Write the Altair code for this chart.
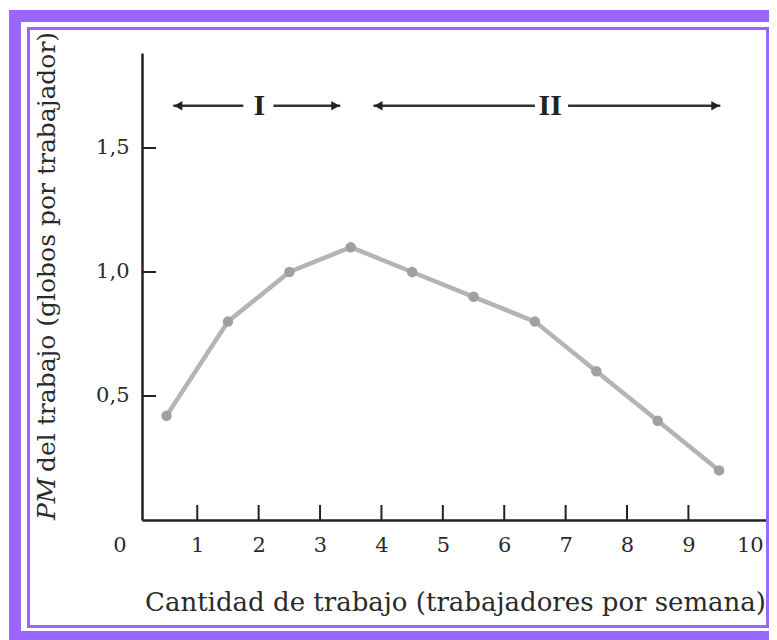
import altair as alt
import pandas as pd

# ---- data ----
trabajo = [0.5, 1.5, 2.5, 3.5, 4.5, 5.5, 6.5, 7.5, 8.5, 9.5]
pm_trabajo = [0.42, 0.80, 1.00, 1.10, 1.00, 0.90, 0.80, 0.60, 0.40, 0.20]
x_ticks = [1, 2, 3, 4, 5, 6, 7, 8, 9, 10]
x_origin = [0]
x_inner_ticks = [1, 2, 3, 4, 5, 6, 7, 8, 9]
y_ticks = [0.5, 1.0, 1.5]

# stage arrows (x from, x to, level)
seg_start = [0.61, 2.24, 3.87, 7.04]
seg_end = [1.75, 3.33, 6.50, 9.52]
arrow_level = 1.67
head_x = [0.69, 3.25, 3.95, 9.44]
head_shape = ["triangle-left", "triangle-right", "triangle-left", "triangle-right"]
stage_x = [2.01, 6.75]
stage_lbl = ["I", "II"]

PURPLE = "#9966ff"
FONT = "DejaVu Serif"
TXT = "#2a2a2a"
W, H = 625, 467

xs = alt.Scale(domain=[0.1, 10.28], nice=False, zero=False)
ys = alt.Scale(domain=[0, 1.883], nice=False, zero=False)

x_axis = alt.Axis(values=x_ticks, tickSize=0, grid=False, title=None,
                  labelFont=FONT, labelFontSize=21, labelColor=TXT,
                  labelPadding=14, domainColor="#222222", domainWidth=2.5,
                  labelFlush=False, labelOverlap=False)
y_axis = alt.Axis(values=y_ticks, tickSize=0, grid=False, title=None,
                  labelFont=FONT, labelFontSize=21, labelColor=TXT,
                  labelPadding=13, domainColor="#222222", domainWidth=2.5,
                  labelExpr="replace(format(datum.value, '.1f'), '.', ',')")

df = pd.DataFrame({"x": trabajo, "y": pm_trabajo})
one = alt.Data(values=[{"a": 1}])

line = alt.Chart(df).mark_line(color="#b4b4b4", strokeWidth=4.5).encode(
    x=alt.X("x:Q", scale=xs, axis=x_axis),
    y=alt.Y("y:Q", scale=ys, axis=y_axis),
)
pts = alt.Chart(df).mark_point(filled=True, color="#a0a0a0", size=110, opacity=1).encode(
    x=alt.X("x:Q", scale=xs, axis=x_axis), y=alt.Y("y:Q", scale=ys, axis=y_axis))

xt = alt.Chart(pd.DataFrame({"t": x_inner_ticks})).mark_rule(color="#222222", strokeWidth=2).encode(
    x=alt.X("t:Q", scale=xs, axis=x_axis), y=alt.value(H), y2=alt.value(H - 15))
yt = alt.Chart(pd.DataFrame({"t": y_ticks})).mark_rule(color="#222222", strokeWidth=2).encode(
    y=alt.Y("t:Q", scale=ys, axis=y_axis), x=alt.value(0), x2=alt.value(14))

# origin label "0", placed at x = 0 through the x scale
zero_lbl = alt.Chart(pd.DataFrame({"z": x_origin})).mark_text(
    font=FONT, fontSize=21, color=TXT, baseline="top", align="center", dx=-16).encode(
    x=alt.X("z:Q", scale=xs, axis=x_axis), y=alt.value(H + 15), text="z:Q")

segs = alt.Chart(pd.DataFrame({"a": seg_start, "b": seg_end, "lv": [arrow_level] * 4})).mark_rule(
    color="#333333", strokeWidth=2.5).encode(
    x=alt.X("a:Q", scale=xs, axis=x_axis), x2="b:Q", y=alt.Y("lv:Q", scale=ys, axis=y_axis))
heads = alt.Chart(pd.DataFrame({"h": head_x, "s": head_shape, "lv": [arrow_level] * 4})).mark_point(
    filled=True, color="#222222", size=90, opacity=1).encode(
    x=alt.X("h:Q", scale=xs, axis=x_axis), y=alt.Y("lv:Q", scale=ys, axis=y_axis),
    shape=alt.Shape("s:N", scale=None, legend=None))
stages = alt.Chart(pd.DataFrame({"sx": stage_x, "t": stage_lbl, "lv": [arrow_level] * 2})).mark_text(
    font="Liberation Serif", fontSize=30, fontWeight="bold", color="#222222", baseline="middle").encode(
    x=alt.X("sx:Q", scale=xs, axis=x_axis), y=alt.Y("lv:Q", scale=ys, axis=y_axis), text="t:N")

# axis titles
ytitle_pm = alt.Chart(one).mark_text(text="PM", font=FONT, fontStyle="italic", fontSize=25,
                                     angle=270, align="left", baseline="middle", color=TXT).encode(
    x=alt.value(-95), y=alt.value(467))
ytitle_rest = alt.Chart(one).mark_text(text="del trabajo (globos por trabajador)", font=FONT, fontSize=25,
                                       angle=270, align="left", baseline="middle", color=TXT).encode(
    x=alt.value(-95), y=alt.value(419))
xtitle = alt.Chart(one).mark_text(text="Cantidad de trabajo (trabajadores por semana)", font=FONT,
                                  fontSize=26, align="right", baseline="middle", color=TXT).encode(
    x=alt.value(624), y=alt.value(550))

# purple frame
outer = alt.Chart(one).mark_rect(filled=False, stroke=PURPLE, strokeWidth=12).encode(
    x=alt.value(-127), x2=alt.value(643), y=alt.value(-37), y2=alt.value(584))
inner = alt.Chart(one).mark_rect(filled=False, stroke=PURPLE, strokeWidth=3).encode(
    x=alt.value(-113.5), x2=alt.value(625.5), y=alt.value(-24.5), y2=alt.value(573.5))

chart = alt.layer(outer, inner, xt, yt, line, pts, segs, heads, stages, zero_lbl,
                  ytitle_pm, ytitle_rest, xtitle).properties(
    width=W, height=H,
    padding={"left": 134, "top": 45, "right": 2, "bottom": 120},
    autosize=alt.AutoSizeParams(type="none"),
    background="white",
).configure_view(stroke=None)

chart.save("out.html", embed_options={"renderer": "svg", "actions": False})
